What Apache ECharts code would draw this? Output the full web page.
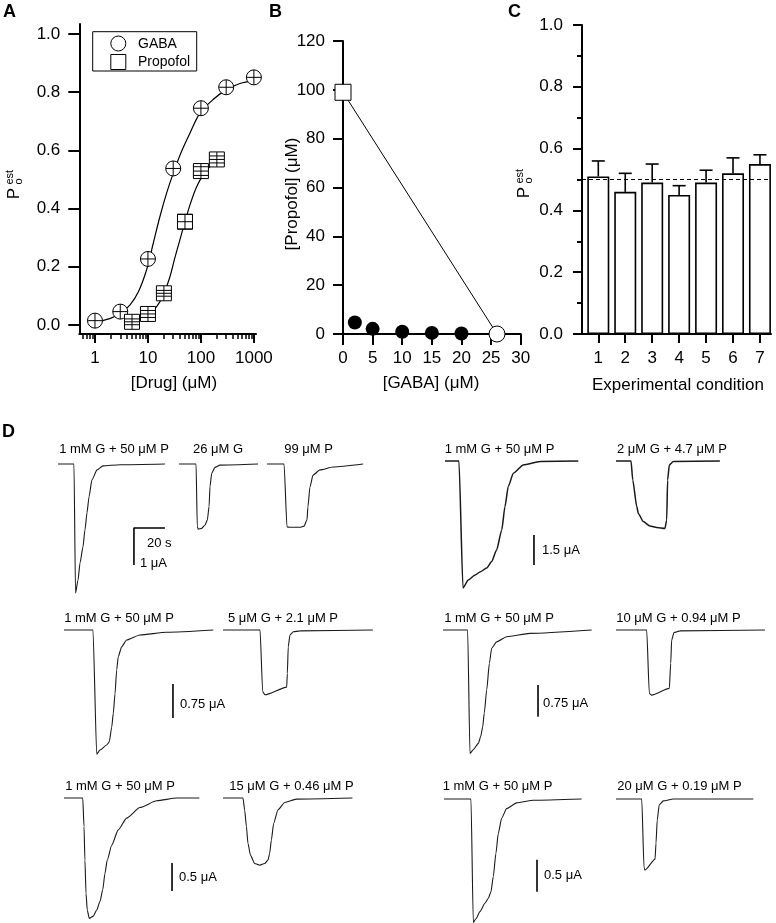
<!DOCTYPE html>
<html><head><meta charset="utf-8">
<script src="https://cdn.jsdelivr.net/npm/echarts@6/dist/echarts.min.js"></script>
<style>html,body{margin:0;padding:0;background:#fff}#c{width:776px;height:923px}</style>
</head><body><div id="c"></div>
<script>
// ================= DATA =================
// Panel A : Po(est) vs [drug]
const gabaConc = [1, 3, 10, 30, 100, 300, 1000];
const gabaPo   = [0.015, 0.046, 0.227, 0.538, 0.745, 0.817, 0.851];
const gabaErr  = [0.012, 0.012, 0.015, 0.012, 0.015, 0.012, 0.012];
const propConc = [5, 10, 20, 50, 100, 200];
const propPo   = [0.011, 0.038, 0.109, 0.355, 0.529, 0.569];
const propErr  = [0.010, 0.012, 0.010, 0.025, 0.015, 0.012];
const gabaFitConc = [1, 1.9, 3, 4.6, 6.6, 9.4, 12.6, 16.8, 22.5, 30, 43, 62, 96, 170, 300, 545, 1000];
const gabaFitPo   = [0.010, 0.022, 0.040, 0.069, 0.114, 0.189, 0.281, 0.372, 0.453, 0.521, 0.596, 0.659, 0.728, 0.775, 0.808, 0.830, 0.840];
const propFitConc = [5, 7.1, 10.1, 14.6, 19.5, 26, 32, 40, 50, 62, 83, 110, 148, 200];
const propFitPo   = [0.008, 0.018, 0.034, 0.063, 0.103, 0.166, 0.229, 0.292, 0.355, 0.412, 0.475, 0.515, 0.544, 0.565];
const aMajorTickConc = [1, 10, 100, 1000];
const aMinorTickConc = [0.6,0.7,0.8,0.9, 2,3,4,5,6,7,8,9, 20,30,40,50,60,70,80,90, 200,300,400,500,600,700,800,900];
const aYTicks = [0, 0.2, 0.4, 0.6, 0.8, 1.0];
const legendNames = ['GABA', 'Propofol'];

// Panel B : isobologram
const bGaba = [2, 5, 10, 15, 20];
const bProp = [4.7, 2.1, 0.94, 0.46, 0.19];
const bPropAlone = 99;
const bGabaAlone = 26;

// Panel C : Po(est) per condition
const cCondition = [1, 2, 3, 4, 5, 6, 7];
const cPo  = [0.51, 0.46, 0.49, 0.45, 0.49, 0.52, 0.55];
const cSem = [0.05, 0.06, 0.06, 0.03, 0.04, 0.05, 0.03];
const cRef = 0.5;

// Panel D : current traces  [time (s), current (uA)]
const trR1a = [[0,0],[10.3,0],[11.3,-3.49],[12.9,-3.14],[14.2,-2.68],[16.1,-2.24],[17.4,-1.78],[18.7,-1.32],[20.0,-0.89],[21.9,-0.43],[25.2,-0.16],[29.0,-0.05],[40,-0.02],[69,0]];
const trR1b = [[0,0],[11.0,0],[11.8,-1.69],[12.4,-1.76],[14.6,-1.74],[16.8,-1.65],[18.3,-1.51],[19.4,-1.15],[20.0,-0.61],[21.1,-0.25],[23.2,-0.09],[26.4,-0.03],[51,0]];
const trR1c = [[0,0],[11.0,0],[12.9,-1.70],[14.8,-1.71],[21.3,-1.71],[23.9,-1.68],[25.8,-1.51],[26.4,-1.16],[27.7,-0.62],[29.7,-0.30],[34.2,-0.16],[42.6,-0.08],[62,0]];
const trR1d = [[0,0],[9.0,0],[11.6,-6.35],[15.0,-5.95],[19.4,-5.7],[22.6,-5.55],[26.9,-5.35],[30.1,-5.03],[33.3,-4.45],[36.6,-3.45],[38.7,-2.28],[40.8,-1.28],[44.1,-0.61],[50.5,-0.2],[61.3,-0.03],[86,0]];
const trR1e = [[0,0],[9.7,0],[10.8,-0.95],[13.4,-2.28],[14.4,-2.62],[17.6,-3.03],[21.9,-3.25],[26.3,-3.32],[31.6,-3.37],[32.7,-2.95],[33.3,-0.95],[34.4,-0.2],[37.0,-0.03],[67,0]];
const trR2a = [[0,0],[18.7,0],[21.1,-2.74],[23.2,-2.65],[27.5,-2.54],[29.2,-2.47],[30.8,-2.14],[31.8,-1.84],[32.9,-1.41],[34.0,-0.88],[35.0,-0.59],[37.2,-0.37],[40.4,-0.22],[49.0,-0.11],[66.2,-0.05],[96.3,0]];
const trR2b = [[0,0],[23.9,0],[25.6,-1.36],[27.1,-1.43],[41.1,-1.26],[41.5,-0.96],[42.1,-0.37],[43.2,-0.11],[45.4,-0.04],[49.7,-0.02],[96.7,0]];
const trR2c = [[0,0],[15.9,0],[17.4,-2.92],[19.5,-2.83],[22.8,-2.68],[24.3,-2.52],[25.6,-2.29],[26.6,-1.97],[28.2,-1.42],[29.9,-0.79],[31.4,-0.43],[34.6,-0.28],[41.1,-0.16],[56.1,-0.08],[95.9,0]];
const trR2d = [[0,0],[19.8,0],[21.5,-1.50],[23.0,-1.54],[34.4,-1.38],[35.3,-0.79],[35.9,-0.24],[37.4,-0.06],[41.3,-0.02],[96.1,0]];
const trR3a = [[0,0],[12.1,0],[12.9,-0.51],[13.5,-1.11],[14.2,-1.70],[15.0,-2.0],[16.3,-2.15],[18.9,-2.11],[21.1,-2.0],[23.2,-1.85],[25.0,-1.64],[26.4,-1.35],[27.9,-1.11],[30.8,-0.84],[35.0,-0.57],[40.4,-0.36],[49.0,-0.17],[59.8,-0.05],[72.7,0],[87.3,0]];
const trR3b = [[0,0],[12.9,0],[14.0,-0.22],[15.1,-0.51],[16.1,-0.81],[17.7,-1.02],[20.4,-1.17],[23.7,-1.2],[26.9,-1.17],[29.0,-1.11],[30.1,-0.99],[31.2,-0.75],[32.7,-0.45],[35.5,-0.21],[39.8,-0.08],[47.3,-0.02],[83.5,0]];
const trR3c = [[0,0],[17.4,0],[18.9,-1.93],[20.6,-1.87],[23.2,-1.76],[26.4,-1.63],[28.6,-1.55],[30.3,-1.45],[31.8,-1.21],[33.5,-0.85],[35.0,-0.54],[37.2,-0.30],[40.4,-0.15],[46.9,-0.06],[57.6,-0.02],[88.8,0]];
const trR3d = [[0,0],[16.6,0],[18.1,-1.08],[18.7,-1.11],[25.2,-0.94],[25.8,-0.69],[26.6,-0.33],[27.9,-0.09],[30.5,-0.03],[37.0,0],[88.6,0]];
const traceLabels = ['1 mM G + 50 μM P','26 μM G','99 μM P','1 mM G + 50 μM P','2 μM G + 4.7 μM P',
  '1 mM G + 50 μM P','5 μM G + 2.1 μM P','1 mM G + 50 μM P','10 μM G + 0.94 μM P',
  '1 mM G + 50 μM P','15 μM G + 0.46 μM P','1 mM G + 50 μM P','20 μM G + 0.19 μM P'];
// scale bars: [seconds, microamps]
const scaleBarValues = [[20,1],[0,1.5],[0,0.75],[0,0.75],[0,0.5],[0,0.5]];
const scaleBarTexts = [['20 s','1 μA'],['1.5 μA'],['0.75 μA'],['0.75 μA'],['0.5 μA'],['0.5 μA']];

// ================= LAYOUT / STYLE =================
const FONT = 'Liberation Sans, Arial, Helvetica, sans-serif';
const PX_PER_S = 1.55;
const traceLayout = [
  {d:trR1a, left:58,  base:464, ua:37,   iMin:-4,  lx:114,   ly:449},
  {d:trR1b, left:179, base:464, ua:37,   iMin:-2,  lx:218,   ly:449},
  {d:trR1c, left:267, base:464, ua:37,   iMin:-2,  lx:308.5, ly:449},
  {d:trR1d, left:445, base:461, ua:20,   iMin:-7,  lx:499.5, ly:449, w:1.5},
  {d:trR1e, left:616, base:461, ua:20,   iMin:-4,  lx:672,   ly:449, w:1.5},
  {d:trR2a, left:64,  base:630, ua:45.3, iMin:-3,  lx:119,   ly:618},
  {d:trR2b, left:223, base:630, ua:45.3, iMin:-2,  lx:283,   ly:618},
  {d:trR2c, left:443, base:630, ua:42.3, iMin:-3,  lx:499,   ly:618},
  {d:trR2d, left:616, base:630, ua:42.3, iMin:-2,  lx:678.5, ly:618},
  {d:trR3a, left:64,  base:798, ua:56,   iMin:-2.5,lx:120,   ly:786},
  {d:trR3b, left:223, base:798, ua:56,   iMin:-2,  lx:291.5, ly:786},
  {d:trR3c, left:444, base:799, ua:64,   iMin:-2,  lx:497.5, ly:786},
  {d:trR3d, left:616, base:799, ua:64,   iMin:-2,  lx:679.5, ly:786}
];
// scale bar anchors (trace index, time, current) and text positions
const scaleBarLayout = [
  {tr:0,  t:49.0, i:-1.73, texts:[[147,543],[140,563]]},
  {tr:3,  t:57.4, i:-3.7,  texts:[[542,550]]},
  {tr:5,  t:70.3, i:-1.19, texts:[[180,704]]},
  {tr:7,  t:61.3, i:-1.30, texts:[[543,703]]},
  {tr:9,  t:69.7, i:-1.16, texts:[[179,877]]},
  {tr:11, t:60.0, i:-0.95, texts:[[544,875]]}
];

const log10 = Math.log10;
const black = '#000';
const axisLine = {show:true, onZero:false, lineStyle:{color:black, width:2}};
const lbl = (m, extra) => Object.assign({color:black, fontSize:17, fontFamily:FONT, margin:m}, extra||{});

const grids = [
  {left:79.3, top:24, width:176.7, height:310},
  {left:343, top:41, width:177.7, height:293},
  {left:582, top:25, width:189, height:309}
];
const xAxes = [
  {gridIndex:0, type:'value', position:'bottom', min:-0.296, max:3.04,
   axisLine:axisLine, splitLine:{show:false},
   axisTick:{show:true, length:9, lineStyle:{width:2, color:black}, customValues:aMajorTickConc.map(log10)},
   axisLabel:lbl(16,{customValues:aMajorTickConc.map(log10), formatter:v=>String(Math.round(Math.pow(10,v)))})},
  {gridIndex:0, type:'value', position:'bottom', offset:0, min:-0.296, max:3.04,
   axisLine:{show:false, onZero:false}, splitLine:{show:false},
   axisTick:{show:true, length:5, lineStyle:{width:1.5, color:black}, customValues:aMinorTickConc.map(log10)},
   axisLabel:{show:false}},
  {gridIndex:1, type:'value', min:0, max:30, interval:5,
   axisLine:axisLine, splitLine:{show:false},
   axisTick:{length:11, lineStyle:{width:2, color:black}}, axisLabel:lbl(16)},
  {gridIndex:2, type:'value', min:0.395, max:7.41,
   axisLine:axisLine, splitLine:{show:false},
   axisTick:{length:9, lineStyle:{width:2, color:black}, customValues:cCondition},
   axisLabel:lbl(16,{customValues:cCondition})}
];
const yAxes = [
  {gridIndex:0, type:'value', min:-0.0309, max:1.0344,
   axisLine:axisLine, splitLine:{show:false},
   axisTick:{show:true, length:11, lineStyle:{width:2, color:black}, customValues:aYTicks},
   axisLabel:lbl(19,{customValues:aYTicks, formatter:v=>v.toFixed(1)})},
  {gridIndex:1, type:'value', min:0, max:120, interval:20,
   axisLine:axisLine, splitLine:{show:false},
   axisTick:{show:true, length:10, lineStyle:{width:2, color:black}}, axisLabel:lbl(18)},
  {gridIndex:2, type:'value', min:0, max:1, interval:0.2,
   axisLine:axisLine, splitLine:{show:false},
   axisTick:{show:true, length:9, lineStyle:{width:2, color:black}},
   minorTick:{show:true, splitNumber:2, length:5, lineStyle:{width:2, color:black}},
   axisLabel:lbl(19,{formatter:v=>v.toFixed(1)})}
];

const series = [];
// ---- Panel A ----
series.push({type:'line', xAxisIndex:0, yAxisIndex:0, data:gabaFitConc.map((c,i)=>[log10(c), gabaFitPo[i]]),
  showSymbol:false, smooth:0.35, lineStyle:{color:black, width:1.2}, z:2, silent:true});
series.push({type:'line', xAxisIndex:0, yAxisIndex:0, data:propFitConc.map((c,i)=>[log10(c), propFitPo[i]]),
  showSymbol:false, smooth:0.35, lineStyle:{color:black, width:1.2}, z:2, silent:true});
function markerRender(shape){
  return function(params, api){
    const lx = api.value(0), v = api.value(1), e = api.value(2);
    const p = api.coord([lx, v]);
    const yt = api.coord([lx, v + e])[1], yb = api.coord([lx, v - e])[1];
    const r = 7.5;
    const st = {stroke:black, lineWidth:1, fill:null};
    const kids = [];
    if (shape === 'circle') kids.push({type:'circle', shape:{cx:p[0], cy:p[1], r:r}, style:{fill:'#fff', stroke:black, lineWidth:1}});
    else kids.push({type:'rect', shape:{x:p[0]-r, y:p[1]-r, width:2*r, height:2*r}, style:{fill:'#fff', stroke:black, lineWidth:1}});
    const top = Math.min(yt, p[1]-r), bot = Math.max(yb, p[1]+r);
    kids.push({type:'line', shape:{x1:p[0], y1:top, x2:p[0], y2:bot}, style:st});
    kids.push({type:'line', shape:{x1:p[0]-r, y1:p[1], x2:p[0]+r, y2:p[1]}, style:st});
    if (shape !== 'circle') {
      kids.push({type:'line', shape:{x1:p[0]-r, y1:yt, x2:p[0]+r, y2:yt}, style:st});
      kids.push({type:'line', shape:{x1:p[0]-r, y1:yb, x2:p[0]+r, y2:yb}, style:st});
    }
    return {type:'group', children:kids};
  };
}
series.push({type:'custom', xAxisIndex:0, yAxisIndex:0, clip:false, z:3, silent:true,
  data:gabaConc.map((c,i)=>[log10(c), gabaPo[i], gabaErr[i]]), renderItem:markerRender('circle')});
series.push({type:'custom', xAxisIndex:0, yAxisIndex:0, clip:false, z:3, silent:true,
  data:propConc.map((c,i)=>[log10(c), propPo[i], propErr[i]]), renderItem:markerRender('rect')});

// ---- Panel B ----
series.push({type:'line', xAxisIndex:2, yAxisIndex:1, data:[[0,bPropAlone],[bGabaAlone,0]],
  showSymbol:false, lineStyle:{color:black, width:1}, z:2, silent:true});
series.push({type:'scatter', xAxisIndex:2, yAxisIndex:1, data:bGaba.map((g,i)=>[g,bProp[i]]),
  symbol:'circle', symbolSize:14, itemStyle:{color:black, opacity:1}, clip:false, z:4, silent:true});
series.push({type:'scatter', xAxisIndex:2, yAxisIndex:1, data:[[0,bPropAlone]],
  symbol:'rect', symbolSize:16, itemStyle:{color:'#fff', borderColor:black, borderWidth:1, opacity:1}, clip:false, z:4, silent:true});
series.push({type:'scatter', xAxisIndex:2, yAxisIndex:1, data:[[bGabaAlone,0]],
  symbol:'circle', symbolSize:16, itemStyle:{color:'#fff', borderColor:black, borderWidth:1, opacity:1}, clip:false, z:4, silent:true});

// ---- Panel C ----
series.push({type:'bar', xAxisIndex:3, yAxisIndex:2, data:cCondition.map((c,i)=>[c,cPo[i]]),
  barWidth:22, itemStyle:{color:'#fff', borderColor:black, borderWidth:1.6}, z:2, silent:true,
  markLine:{silent:true, symbol:['none','none'], label:{show:false},
    lineStyle:{color:black, width:1, type:[4,3]}, data:[{yAxis:cRef}], animation:false}});
series.push({type:'custom', xAxisIndex:3, yAxisIndex:2, clip:false, z:3, silent:true,
  data:cCondition.map((c,i)=>[c, cPo[i], cSem[i]]),
  renderItem:function(params, api){
    const x = api.value(0), v = api.value(1), e = api.value(2);
    const p1 = api.coord([x, v]), p2 = api.coord([x, v + e]);
    const st = {stroke:black, lineWidth:1.6};
    return {type:'group', children:[
      {type:'line', shape:{x1:p1[0], y1:p1[1], x2:p2[0], y2:p2[1]}, style:st},
      {type:'line', shape:{x1:p2[0]-6.5, y1:p2[1], x2:p2[0]+6.5, y2:p2[1]}, style:st}
    ]};
  }});

// ---- Panel D traces ----
traceLayout.forEach((L, k) => {
  const tMax = L.d[L.d.length-1][0];
  grids.push({left:L.left, top:L.base, width:tMax*PX_PER_S, height:-L.iMin*L.ua});
  xAxes.push({gridIndex:3+k, type:'value', min:0, max:tMax, show:false});
  yAxes.push({gridIndex:3+k, type:'value', min:L.iMin, max:0, show:false});
  series.push({type:'line', xAxisIndex:4+k, yAxisIndex:3+k, data:L.d, showSymbol:false,
    smooth:0.2, smoothMonotone:'x', clip:false, silent:true,
    lineStyle:{color:'#1a1a1a', width:L.w||1.1}});
});
scaleBarLayout.forEach((S, j) => {
  const [dt, di] = scaleBarValues[j];
  const pts = dt > 0 ? [[S.t + dt, S.i], [S.t, S.i], [S.t, S.i - di]] : [[S.t, S.i], [S.t, S.i - di]];
  series.push({type:'line', xAxisIndex:4+S.tr, yAxisIndex:3+S.tr, data:pts, showSymbol:false,
    clip:false, silent:true, lineStyle:{color:black, width:1.6}});
});

// ================= GRAPHIC TEXT =================
const gfx = [];
const txt = (t, x, y, size, opt) => ({type:'text', x:x, y:y,
  style:{text:t, font:(opt&&opt.bold?'bold ':'')+size+'px '+FONT, fill:black,
    align:(opt&&opt.align)||'left', verticalAlign:'middle'}});
gfx.push(txt('A', 3, 12, 18, {bold:true}));
gfx.push(txt('B', 269, 12, 18, {bold:true}));
gfx.push(txt('C', 508, 12, 18, {bold:true}));
gfx.push(txt('D', 2, 432, 18, {bold:true}));
gfx.push(txt('[Drug] (μM)', 174, 383, 17, {align:'center'}));
gfx.push(txt('[GABA] (μM)', 431, 383, 17, {align:'center'}));
gfx.push(txt('Experimental condition', 678, 385, 17, {align:'center'}));
gfx.push({type:'text', x:292, y:194, rotation:Math.PI/2,
  style:{text:'[Propofol] (μM)', font:'17px '+FONT, fill:black, align:'center', verticalAlign:'middle'}});
function poLabel(x, y){
  return {type:'group', x:x, y:y, rotation:Math.PI/2, children:[
    {type:'text', x:0, y:0, style:{text:'P', font:'17px '+FONT, fill:black, align:'center', verticalAlign:'middle'}},
    {type:'text', x:9, y:4, style:{text:'o', font:'11px '+FONT, fill:black, align:'left', verticalAlign:'middle'}},
    {type:'text', x:9, y:-5, style:{text:'est', font:'11px '+FONT, fill:black, align:'left', verticalAlign:'middle'}}
  ]};
}
gfx.push(poLabel(14.5, 193.5));
gfx.push(poLabel(524.5, 192.5));
// legend of panel A
gfx.push({type:'rect', shape:{x:92.7, y:31.7, width:104, height:39.3}, style:{fill:'#fff', stroke:black, lineWidth:1}, z:10});
gfx.push({type:'circle', shape:{cx:118.3, cy:43.5, r:7.5}, style:{fill:'#fff', stroke:black, lineWidth:1}, z:11});
gfx.push({type:'rect', shape:{x:110.8, y:54.5, width:15, height:15}, style:{fill:'#fff', stroke:black, lineWidth:1}, z:11});
gfx.push(Object.assign(txt(legendNames[0], 138, 44, 14), {z:11}));
gfx.push(Object.assign(txt(legendNames[1], 138, 62, 14), {z:11}));
// trace labels
traceLayout.forEach((L, k) => gfx.push(txt(traceLabels[k], L.lx, L.ly, 13, {align:'center'})));
// scale bar labels
scaleBarLayout.forEach((S, j) => S.texts.forEach((p, m) => gfx.push(txt(scaleBarTexts[j][m], p[0], p[1], 13))));

const chart = echarts.init(document.getElementById('c'), null, {renderer:'canvas'});
chart.setOption({
  animation:false,
  backgroundColor:'#fff',
  textStyle:{fontFamily:FONT},
  grid:grids.map(g => Object.assign({show:false, containLabel:false, outerBoundsMode:'none'}, g)),
  xAxis:xAxes, yAxis:yAxes, series:series, graphic:gfx
});
</script></body></html>
